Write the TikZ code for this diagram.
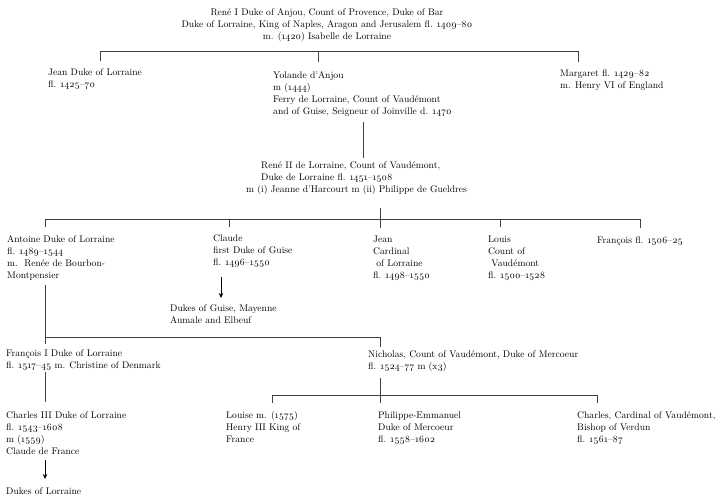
\documentclass[tikz,border=0pt]{standalone}
\usepackage{fontspec}
\setmainfont{Latin Modern Roman}[Numbers=OldStyle]
\usetikzlibrary{arrows.meta}
\begin{document}
\begin{tikzpicture}[x=1pt,y=-1pt,
  txt/.style={anchor=base west,align=left,inner sep=0pt,font=\fontsize{9.6}{12}\selectfont},
  ctxt/.style={txt,anchor=base,align=center},
  ln/.style={draw=black!75,line width=0.7pt},
  arr/.style={draw=black,line width=0.8pt,-{Stealth[length=5pt,width=4.5pt]}}]
\useasboundingbox (0,0) rectangle (724,499);
% --- nodes (anchor = baseline of the last line)
\node[ctxt] (rene1) at (327,39.5) {René I Duke of Anjou, Count of Provence, Duke of Bar\\Duke of Lorraine, King of Naples, Aragon and Jerusalem fl. 1409–80\\m. (1420) Isabelle de Lorraine};
\node[txt] (jean1) at (48,87.5) {Jean Duke of Lorraine\\fl. 1425–70};
\node[txt] (yol) at (273,114) {Yolande d’Anjou\\m (1444)\\Ferry de Lorraine, Count of Vaudémont\\and of Guise, Seigneur of Joinville d. 1470};
\node[txt] (marg) at (560,88.5) {Margaret fl. 1429–82\\m. Henry VI of England};
\node[txt] (rene2) at (246,192) {\hspace*{15pt}René II de Lorraine, Count of Vaudémont,\\\hspace*{15pt}Duke de Lorraine fl. 1451–1508\\m (i) Jeanne d’Harcourt m (ii) Philippe de Gueldres};
\node[txt] (antoine) at (7,278) {Antoine Duke of Lorraine\\fl. 1489–1544\\m.\ \ Renée de Bourbon-\\Montpensier};
\node[txt] (claude) at (213,265.5) {Claude\\first Duke of Guise\\fl. 1496–1550};
\node[txt] (jeanc) at (373,278) {Jean\\Cardinal\\\ of Lorraine\\fl. 1498–1550};
\node[txt] (louis) at (488,278) {Louis\\Count of\\\ Vaudémont\\fl. 1500–1528};
\node[txt] (franc) at (597,243.5) {François fl. 1506–25};
\node[txt] (guise) at (170,323.5) {Dukes of Guise, Mayenne\\Aumale and Elbeuf};
\node[txt] (franc1) at (6,368.5) {François I Duke of Lorraine\\fl. 1517–45 m. Christine of Denmark};
\node[txt] (nich) at (368,369.5) {Nicholas, Count of Vaudémont, Duke of Mercoeur\\fl. 1524–77 m (x3)};
\node[txt] (charles3) at (6,454.5) {Charles III Duke of Lorraine\\fl. 1543–1608\\m (1559)\\Claude de France};
\node[txt] (louise) at (226,442.5) {Louise m. (1575)\\Henry III King of\\France};
\node[txt] (phil) at (378,442.5) {Philippe-Emmanuel\\Duke of Mercoeur\\fl. 1558–1602};
\node[txt] (charlesc) at (577,442.5) {Charles, Cardinal of Vaudémont,\\Bishop of Verdun\\fl. 1561–87};
\node[txt] (dlor) at (6,494) {Dukes of Lorraine};
% --- coordinates
\coordinate (b1l) at (100,51); \coordinate (b1r) at (578,51);
\coordinate (t1a) at (100,61); \coordinate (b1m) at (318,51); \coordinate (t1b) at (318,62); \coordinate (t1c) at (578,62);
\coordinate (y1) at (363,122); \coordinate (y2) at (363,158);
\coordinate (r2a) at (380,208);
\coordinate (b2l) at (45,219); \coordinate (b2r) at (640,219);
\coordinate (t2a) at (45,227); \coordinate (b2b) at (229,219); \coordinate (t2b) at (229,227);
\coordinate (t2c) at (380,228); \coordinate (b2d) at (500,219); \coordinate (t2d) at (500,227); \coordinate (t2e) at (640,228);
\coordinate (c1) at (221,277); \coordinate (c2) at (221,298);
\coordinate (a1) at (45,285); \coordinate (b3l) at (45,337); \coordinate (b3r) at (380,337);
\coordinate (t3a) at (45,344); \coordinate (t3b) at (380,347);
\coordinate (f1) at (45,372); \coordinate (f2) at (45,402);
\coordinate (n1) at (380,378); \coordinate (b4m) at (380,395);
\coordinate (b4l) at (272,395); \coordinate (b4r) at (597,395);
\coordinate (t4a) at (272,403); \coordinate (t4b) at (380,403); \coordinate (t4c) at (597,403);
\coordinate (ch1) at (45,460); \coordinate (ch2) at (45,479);
% --- connectors
\draw[ln] (b1l) -- (b1r);
\draw[ln] (b1l) -- (t1a);
\draw[ln] (b1m) -- (t1b);
\draw[ln] (b1r) -- (t1c);
\draw[ln] (y1) -- (y2);
\draw[ln] (b2l) -- (b2r);
\draw[ln] (r2a) -- (t2c);
\draw[ln] (b2l) -- (t2a);
\draw[ln] (b2b) -- (t2b);
\draw[ln] (b2d) -- (t2d);
\draw[ln] (b2r) -- (t2e);
\draw[arr] (c1) -- (c2);
\draw[ln] (a1) -- (b3l) -- (b3r) -- (t3b);
\draw[ln] (b3l) -- (t3a);
\draw[ln] (f1) -- (f2);
\draw[ln] (n1) -- (b4m);
\draw[ln] (b4l) -- (b4r);
\draw[ln] (b4l) -- (t4a);
\draw[ln] (b4m) -- (t4b);
\draw[ln] (b4r) -- (t4c);
\draw[arr] (ch1) -- (ch2);
\end{tikzpicture}
\end{document}
